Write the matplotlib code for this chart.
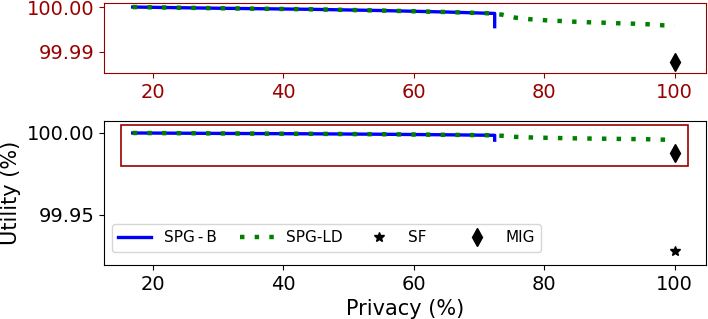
import matplotlib
matplotlib.use("Agg")
import matplotlib.pyplot as plt
from matplotlib.patches import Rectangle

spgb_x = [16.9, 30, 44, 55, 65, 71.2, 72.4, 72.4]
spgb_y = [100.0, 99.99973, 99.9995, 99.99922, 99.99889, 99.99862, 99.99858, 99.99562]
spgld_x = [16.9, 30, 44, 55, 65, 71.2, 73.5, 75.6, 77.9, 80.2, 82.3, 84.6, 86.9,
           89.1, 91.4, 93.7, 95.9, 98.2, 100]
spgld_y = [100.0, 99.99973, 99.9995, 99.99922, 99.99889, 99.99862, 99.99831,
           99.99762, 99.99727, 99.99705, 99.9969, 99.99673, 99.9966, 99.99651,
           99.99638, 99.99629, 99.99616, 99.99593, 99.99585]
sf_x, sf_y = [100], [99.928]
mig_x, mig_y = [100], [99.9878]
xticks = [20, 40, 60, 80, 100]
labels = ["SPG\u2009-\u2009B ", "SPG-LD", "SF   ", "MIG"]

red = "#990000"
fig = plt.figure(figsize=(7.08, 3.19), dpi=100)
W, H = 708, 319
ax1 = fig.add_axes([104 / W, 1 - 73 / H, (706 - 104) / W, 70 / H])
ax2 = fig.add_axes([104 / W, 1 - 265 / H, (706 - 104) / W, 144 / H])

for ax in (ax1, ax2):
    ax.plot(spgb_x, spgb_y, color="blue", lw=2.4, label=labels[0])
    ax.plot(spgld_x, spgld_y, color="green", lw=3.2, ls=(0, (1, 2.3)), label=labels[1])
    ax.plot(sf_x, sf_y, ls="none", marker="*", color="black", ms=7, label=labels[2])
    ax.plot(mig_x, mig_y, ls="none", marker="d", color="black", ms=9, label=labels[3])
    ax.set_xlim(12.5, 104.8)
    ax.set_xticks(xticks)
    ax.tick_params(labelsize=14)

ax1.set_ylim(99.9853, 100.0009)
ax1.set_yticks([99.99, 100.00])
ax1.set_yticklabels(["99.99", "100.00"])
for s in ax1.spines.values():
    s.set_color(red)
ax1.tick_params(colors=red, labelcolor=red)

ax2.set_ylim(99.9195, 100.0073)
ax2.set_yticks([99.95, 100.00])
ax2.set_yticklabels(["99.95", "100.00"])
ax2.add_patch(Rectangle((15.1, 99.98), 86.9, 0.0249, fill=False, edgecolor=red, lw=1.2))
ax2.set_xlabel("Privacy (%)", fontsize=15)
ax2.set_ylabel("Utility (%)", fontsize=15)
ax2.legend(loc="lower left", ncol=4, fontsize=11, handlelength=2.2,
           columnspacing=1.25, bbox_to_anchor=(0.0, 0.04))

fig.savefig("out.png", dpi=100)
